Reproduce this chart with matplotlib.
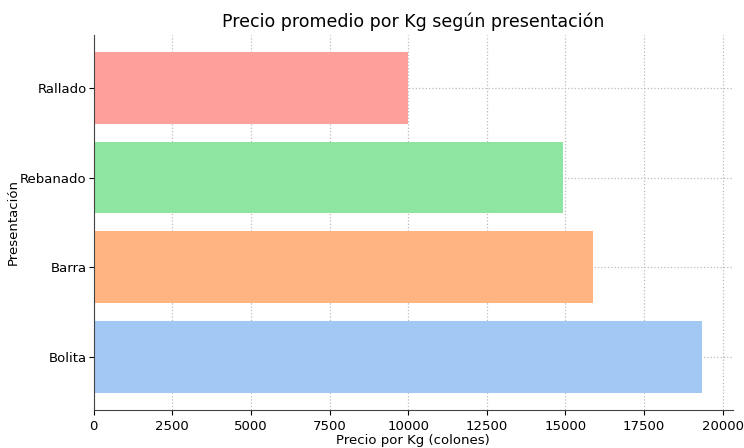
import matplotlib.pyplot as plt

presentaciones = ['Bolita', 'Barra', 'Rebanado', 'Rallado']
precios = [19360, 15890, 14940, 10000]
colores = ['#a1c9f4', '#ffb482', '#8de5a1', '#ff9f9b']

fig = plt.figure(figsize=(7.44, 4.48), dpi=100)
ax = fig.add_axes([0.126, 0.085, 0.859, 0.837])

ax.barh(presentaciones, precios, color=colores, zorder=2)
ax.grid(True, linestyle=':', color='#bbbbbb', linewidth=0.9, zorder=0)

ax.spines['top'].set_visible(False)
ax.spines['right'].set_visible(False)
for s in ['left', 'bottom']:
    ax.spines[s].set_color('#444444')

ax.set_title('Precio promedio por Kg según presentación', fontsize=12.5)
ax.set_xlabel('Precio por Kg (colones)', fontsize=9.5, labelpad=1)
ax.set_ylabel('Presentación', fontsize=9.5)
ax.yaxis.set_label_coords(-0.115, 0.5)
ax.tick_params(labelsize=9.5)
ax.tick_params(axis='y', pad=1.5)

fig.savefig('out.png', dpi=100)
